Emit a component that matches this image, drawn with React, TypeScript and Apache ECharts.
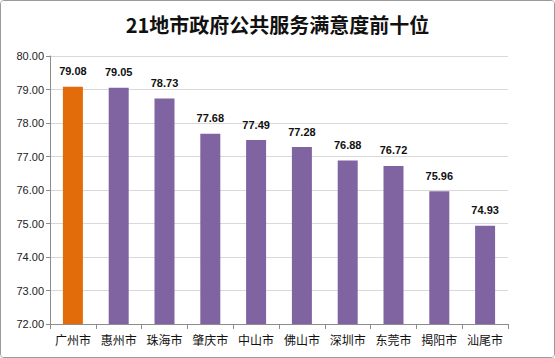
import React, { useEffect, useRef } from "react";
import * as echarts from "echarts";

const categories = ["广州市", "惠州市", "珠海市", "肇庆市", "中山市", "佛山市", "深圳市", "东莞市", "揭阳市", "汕尾市"];
const values = [79.08, 79.05, 78.73, 77.68, 77.49, 77.28, 76.88, 76.72, 75.96, 74.93];
const highlightIndex = 0;
const titleText = "21地市政府公共服务满意度前十位";

export default function App() {
  const ref = useRef<HTMLDivElement>(null);
  useEffect(() => {
    if (!ref.current) return;
    const chart = echarts.init(ref.current, undefined, { renderer: "svg" });
    chart.setOption({
      animation: false,
      backgroundColor: "#ffffff",
      title: {
        text: titleText,
        left: "center",
        top: 8,
        textStyle: { fontSize: 20, fontWeight: "bold", color: "#111", fontFamily: "Noto Sans CJK SC" },
      },
      grid: { left: 49, right: 46, top: 55, bottom: 33 },
      xAxis: {
        type: "category",
        data: categories,
        axisLine: { lineStyle: { color: "#8c8c8c" } },
        axisTick: { show: true, alignWithLabel: false, length: 5, lineStyle: { color: "#8c8c8c" } },
        axisLabel: { interval: 0, color: "#111", fontSize: 12, margin: 9, fontFamily: "Noto Sans CJK SC" },
      },
      yAxis: {
        type: "value",
        min: 72,
        max: 80,
        interval: 1,
        axisLine: { show: true, lineStyle: { color: "#8c8c8c" } },
        axisTick: { show: true, length: 4, lineStyle: { color: "#8c8c8c" } },
        splitLine: { lineStyle: { color: "#d9d9d9" } },
        axisLabel: {
          color: "#222",
          fontSize: 11,
          margin: 6,
          fontFamily: "Liberation Sans",
          formatter: (v: number) => v.toFixed(2),
        },
      },
      series: [
        {
          type: "bar",
          data: values.map((v, i) => ({
            value: v,
            itemStyle: { color: i === highlightIndex ? "#E36C0A" : "#8064A2" },
          })),
          barWidth: 20,
          label: {
            show: true,
            position: "top",
            distance: 10,
            color: "#111",
            fontSize: 11,
            fontWeight: "bold",
            fontFamily: "Liberation Sans",
            formatter: (p: any) => p.value.toFixed(2),
          },
        },
      ],
    });
    return () => chart.dispose();
  }, []);
  return (
    <div
      style={{
        position: "fixed",
        left: 0,
        top: 0,
        width: 555,
        height: 358,
        boxSizing: "border-box",
        border: "1px solid #9a9a9a",
        borderRadius: 4,
        overflow: "hidden",
        background: "#fff",
      }}
    >
      <div ref={ref} style={{ width: 553, height: 356 }} />
    </div>
  );
}
